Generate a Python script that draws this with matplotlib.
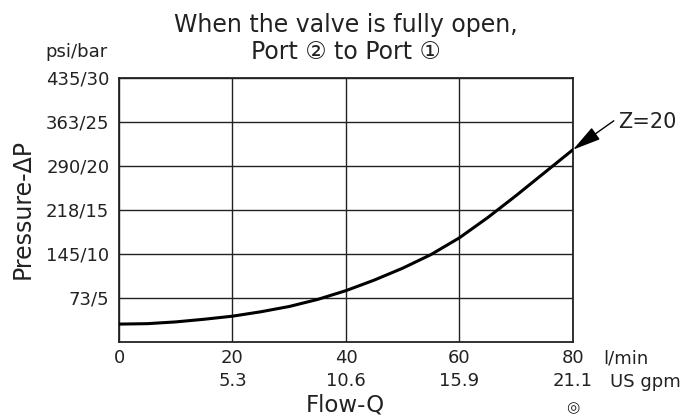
import numpy as np
import matplotlib.pyplot as plt
from matplotlib import transforms

plt.rcParams['font.family'] = ['DejaVu Sans', 'Noto Sans CJK JP']

# flow (l/min) and pressure drop (bar)
flow = [0, 5, 10, 15, 20, 25, 30, 35, 40, 45, 50, 55, 60, 65, 70, 75, 80]
dp_bar = [2.0, 2.05, 2.25, 2.55, 2.9, 3.4, 4.0, 4.8, 5.8, 7.0, 8.35, 9.9,
          11.8, 14.1, 16.6, 19.2, 21.8]

x_ticks = [0, 20, 40, 60, 80]
gpm_labels = ["", "5.3", "10.6", "15.9", "21.1"]
y_ticks = [5, 10, 15, 20, 25, 30]
y_labels = ["73/5", "145/10", "218/15", "290/20", "363/25", "435/30"]

txt = '#222222'

fig = plt.figure(figsize=(6.82, 4.18), dpi=100)
ax = fig.add_axes([0.1745, 0.1825, 0.6655, 0.632])

ax.plot(flow, dp_bar, color='black', linewidth=2.2, zorder=3)

ax.set_xlim(0, 80)
ax.set_ylim(0, 30)
ax.set_xticks(x_ticks)
ax.set_yticks(y_ticks)
ax.set_yticklabels(y_labels, fontsize=13, color=txt)
ax.set_xticklabels([])
ax.tick_params(length=0, pad=7)
ax.grid(True, color=txt, linewidth=1.0)
for s in ax.spines.values():
    s.set_linewidth(1.3)
    s.set_color(txt)

# two rows of x labels: l/min and US gpm
trans = transforms.blended_transform_factory(ax.transData, ax.transAxes)
for xv, gpm in zip(x_ticks, gpm_labels):
    ax.text(xv, -0.06, str(xv), transform=trans, ha='center', va='center',
            fontsize=13, color=txt)
    if gpm:
        ax.text(xv, -0.147, gpm, transform=trans, ha='center', va='center',
                fontsize=13, color=txt)
fig.text(0.884, 0.142, "l/min", ha='left', va='center', fontsize=13, color=txt)
fig.text(0.895, 0.087, "US gpm", ha='left', va='center', fontsize=13, color=txt)
fig.text(0.507, 0.031, "Flow-Q", ha='center', va='center', fontsize=16.5, color=txt)
fig.text(0.840, 0.025, "\u25ce", ha='center', va='center', fontsize=11, color=txt)

fig.text(0.033, 0.50, "Pressure-\u0394P", rotation=90, ha='center', va='center',
         fontsize=17, color=txt)
fig.text(0.112, 0.875, "psi/bar", ha='center', va='center', fontsize=13, color=txt)

fig.text(0.507, 0.940, "When the valve is fully open,", ha='center', va='center',
         fontsize=17, color=txt)
fig.text(0.507, 0.875, "Port \u2461 to Port \u2460", ha='center', va='center',
         fontsize=17, color=txt)

# Z=20 label with leader arrow to the curve end
fig.text(0.906, 0.708, "Z=20", ha='left', va='center', fontsize=15, color=txt)
ax.annotate("", xy=(80, dp_bar[-1]), xytext=(0.900, 0.711),
            textcoords='figure fraction',
            arrowprops=dict(arrowstyle='-|>,head_length=0.8,head_width=0.2',
                            color='black', lw=1.0,
                            mutation_scale=22, shrinkA=0, shrinkB=0),
            annotation_clip=False)

fig.savefig("out.png", dpi=100)
